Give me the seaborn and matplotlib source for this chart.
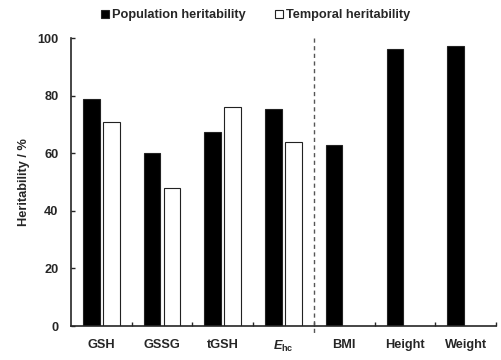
import numpy as np
import pandas as pd
import matplotlib
matplotlib.use("Agg")
import matplotlib.pyplot as plt
import seaborn as sns

# ----------------------------
# Data
# ----------------------------

categories = ["GSH", "GSSG", "tGSH", "Ehc", "BMI", "Height", "Weight"]
tick_labels = ["GSH", "GSSG", "tGSH", r"$\mathit{E}_{\mathbf{hc}}$", "BMI", "Height", "Weight"]
population = [78.8, 60.0, 67.3, 75.5, 63.0, 96.2, 97.2]
temporal = [71.0, 48.0, 76.2, 64.0, np.nan, np.nan, np.nan]
series_names = ["Population heritability", "Temporal heritability"]

df = pd.DataFrame({
    "category": categories * 2,
    "value": population + temporal,
    "series": [series_names[0]] * len(categories) + [series_names[1]] * len(categories),
})

# ----------------------------
# Style
# ----------------------------

sns.set_style("ticks")
plt.rcParams["font.family"] = ["Liberation Sans", "DejaVu Sans"]
plt.rcParams["font.weight"] = "bold"
plt.rcParams["mathtext.fontset"] = "custom"
plt.rcParams["mathtext.it"] = "Liberation Sans:italic:bold"
plt.rcParams["mathtext.bf"] = "Liberation Sans:bold"
plt.rcParams["mathtext.rm"] = "Liberation Sans:bold"

fig = plt.figure(figsize=(5.02, 3.6), dpi=100)
ax = fig.add_axes([0.1414, 0.0944, 0.8466, 0.7996])

sns.barplot(
    data=df, x="category", y="value", hue="series",
    order=categories, hue_order=series_names,
    palette={series_names[0]: "black", series_names[1]: "white"},
    edgecolor="#222222", linewidth=0.8,
    width=0.66, gap=0.17, ax=ax, legend=True,
)

# dashed separator between the GSH-related traits and the anthropometric ones
ax.plot([3.5, 3.5], [100, -3], color="#555555", linestyle=(0, (3, 2.5)),
        linewidth=1.0, clip_on=False, zorder=5)

ax.set_xlim(-0.5, 6.5)
ax.set_ylim(0, 100)
ax.set_yticks([0, 20, 40, 60, 80, 100])
ax.set_xticks(range(len(categories)))
ax.set_xticklabels(tick_labels, fontsize=9.2, fontweight="bold")
ax.set_xticks(np.arange(0.5, 7, 1), minor=True)
ax.tick_params(axis="x", which="major", length=0, pad=9.5)
ax.tick_params(axis="x", which="minor", direction="in", length=3, width=1)
ax.tick_params(axis="y", direction="in", length=3, width=1, pad=9, labelsize=9.2)
for lbl in ax.get_yticklabels():
    lbl.set_fontweight("bold")

ax.set_xlabel("")
ax.set_ylabel("Heritability / %", fontsize=9.2, fontweight="bold", labelpad=5.5)

for side in ["top", "right"]:
    ax.spines[side].set_visible(False)
for side in ["left", "bottom"]:
    ax.spines[side].set_linewidth(1.2)

handles, labels = ax.get_legend_handles_labels()
ax.get_legend().remove()
fig.legend(
    handles, labels, loc="center", bbox_to_anchor=(0.51, 0.958), ncol=2,
    frameon=False, handlelength=0.6, handleheight=0.6,
    handletextpad=0.25, columnspacing=2.3, prop={"weight": "bold", "size": 9.2},
)

plt.savefig("out.png", dpi=100)
